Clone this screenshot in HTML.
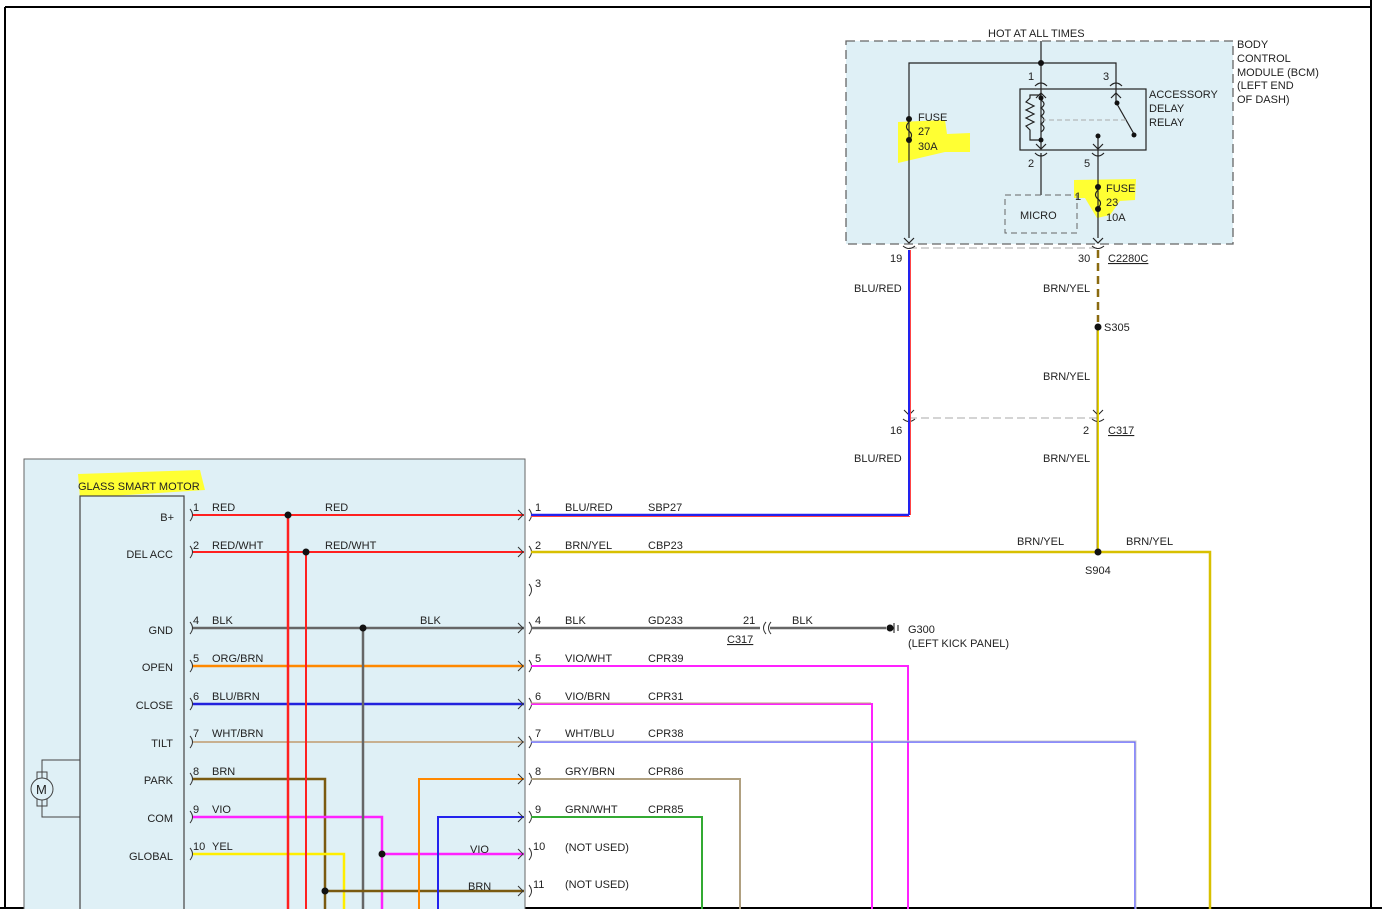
<!DOCTYPE html>
<html><head><meta charset="utf-8"><style>
html,body{margin:0;padding:0;background:#fff;}
svg{display:block;}
text{font-family:"Liberation Sans",sans-serif;font-size:11px;fill:#222;}
</style></head><body>
<svg width="1382" height="909" viewBox="0 0 1382 909" xmlns="http://www.w3.org/2000/svg">
<!-- page border -->
<line x1="5" y1="7" x2="1371" y2="7" stroke="#000" stroke-width="2"/>
<line x1="5" y1="7" x2="5" y2="909" stroke="#000" stroke-width="2"/>
<line x1="1371" y1="0" x2="1371" y2="909" stroke="#000" stroke-width="2"/>
<line x1="0" y1="908" x2="1382" y2="908" stroke="#000" stroke-width="2"/>

<!-- BCM box -->
<rect x="846" y="41" width="387" height="203" fill="#dff0f6" stroke="#666" stroke-width="1.3" stroke-dasharray="9,5"/>
<text x="988" y="37">HOT AT ALL TIMES</text>
<text x="1237" y="48">BODY</text>
<text x="1237" y="62">CONTROL</text>
<text x="1237" y="76">MODULE (BCM)</text>
<text x="1237" y="89">(LEFT END</text>
<text x="1237" y="103">OF DASH)</text>
<!-- yellow highlights -->
<path d="M898 122 L945 120 L947 134 L970 133 L970 152 L945 152 L898 163 Z" fill="#ffff33"/>
<path d="M1074 180 L1136 179 L1135 200 L1120 201 L1110 215 L1097 218 L1085 198 L1074 198 Z" fill="#ffff33"/>
<g stroke="#222" stroke-width="1.2" fill="none">
<line x1="1041" y1="41" x2="1041" y2="82"/>
<polyline points="909,238 909,63 1116,63 1116,82"/>
<rect x="1020" y="89" width="126" height="61"/>
<path d="M1035 86 q6 -6 12 0 M1110 86 q6 -6 12 0 M1035 153 q6 6 12 0 M1092 153 q6 6 12 0"/>
<polyline points="1041,82 1041,148"/>
<path d="M1041 100 q6 4 0 8 q6 4 0 8 q6 4 0 8 q6 4 0 8"/>
<polyline points="1041,95 1030,95 1030,98 1026,102 1034,106 1026,110 1034,114 1026,118 1034,122 1026,126 1030,130 1030,140 1041,140"/>
<line x1="1116" y1="82" x2="1116" y2="104"/>
<line x1="1117" y1="104" x2="1134" y2="134"/>
<line x1="1098" y1="136" x2="1098" y2="238"/>
<line x1="1041" y1="153" x2="1041" y2="195"/>
<path d="M1036 98 l5 -5 l5 5 M1036 144 l5 5 l5 -5 M1111 98 l5 -5 l5 5 M1093 144 l5 5 l5 -5 M904 238 l5 5 l5 -5 M1093 238 l5 5 l5 -5"/>
<path d="M909 122 q-5 5 0 9 q5 4 0 9 M1098 190 q-5 5 0 9 q5 4 0 9"/>
</g>
<line x1="1041" y1="120" x2="1128" y2="120" stroke="#aaa" stroke-dasharray="5,3"/>
<rect x="1005" y="195" width="72" height="38" fill="none" stroke="#666" stroke-dasharray="6,4"/>
<text x="1020" y="219">MICRO</text>
<text x="1075" y="200">1</text>
<g fill="#111">
<circle cx="1041" cy="63" r="3"/><circle cx="909" cy="119" r="3"/><circle cx="909" cy="140" r="3"/>
<circle cx="1041" cy="98" r="2.5"/><circle cx="1041" cy="140" r="2.5"/><circle cx="1117" cy="103" r="2.5"/><circle cx="1134" cy="135" r="2.5"/><circle cx="1098" cy="136" r="2.5"/>
<circle cx="1098" cy="187" r="3"/><circle cx="1098" cy="209" r="3"/>
</g>
<text x="1028" y="80">1</text><text x="1103" y="80">3</text><text x="1028" y="167">2</text><text x="1084" y="167">5</text>
<text x="1149" y="98">ACCESSORY</text><text x="1149" y="112">DELAY</text><text x="1149" y="126">RELAY</text>
<text x="918" y="121">FUSE</text><text x="918" y="135">27</text><text x="918" y="150">30A</text>
<text x="1106" y="192">FUSE</text><text x="1106" y="206">23</text><text x="1106" y="221">10A</text>

<!-- connectors C2280C / C317 -->
<line x1="909" y1="248" x2="1098" y2="248" stroke="#aaa" stroke-dasharray="8,4"/>
<line x1="909" y1="418" x2="1098" y2="418" stroke="#aaa" stroke-dasharray="8,4"/>
<g stroke="#222" stroke-width="1" fill="none">
<path d="M903 246 q6 5 12 0 M1092 246 q6 5 12 0 M903 419 q6 5 12 0 M1092 419 q6 5 12 0 M904 410 l5 5 l5 -5 M1093 410 l5 5 l5 -5"/>
</g>
<text x="890" y="262">19</text><text x="1078" y="262">30</text><text x="1108" y="262" text-decoration="underline">C2280C</text>
<text x="854" y="292">BLU/RED</text><text x="1043" y="292">BRN/YEL</text>
<text x="1104" y="331">S305</text><text x="1043" y="380">BRN/YEL</text>
<text x="890" y="434">16</text><text x="1083" y="434">2</text><text x="1108" y="434" text-decoration="underline">C317</text>
<text x="854" y="462">BLU/RED</text><text x="1043" y="462">BRN/YEL</text>

<!-- vertical right wires -->
<line x1="909" y1="250" x2="909" y2="515" stroke="#2222ee" stroke-width="2"/>
<line x1="910.5" y1="250" x2="910.5" y2="515" stroke="#ff4444" stroke-width="1"/>
<line x1="1098" y1="250" x2="1098" y2="322" stroke="#8a6a10" stroke-width="2.5" stroke-dasharray="8,5"/>
<line x1="1098" y1="327" x2="1098" y2="552" stroke="#e8d800" stroke-width="2"/>
<line x1="1097" y1="327" x2="1097" y2="552" stroke="#8a6a10" stroke-width="0.8"/>
<circle cx="1098" cy="327" r="3.5" fill="#111"/>

<!-- left module box -->
<rect x="24" y="459" width="501" height="460" fill="#dff0f6" stroke="#666" stroke-width="1"/>
<path d="M78 474 L200 470 L205 490 L80 498 Z" fill="#ffff33"/>
<text x="78" y="490">GLASS SMART MOTOR</text>
<rect x="80" y="496" width="104" height="420" fill="#dff0f6" stroke="#444" stroke-width="1.2"/>
<polyline points="80,760 42,760 42,817 80,817" fill="none" stroke="#444"/>
<rect x="37" y="772" width="10" height="34" fill="none" stroke="#444"/>
<circle cx="42" cy="789" r="11" fill="#dff0f6" stroke="#444"/>
<text x="36" y="794" style="font-size:13px">M</text>
<g text-anchor="end">
<text x="174" y="521">B+</text><text x="173" y="558">DEL ACC</text><text x="173" y="634">GND</text>
<text x="173" y="671">OPEN</text><text x="173" y="709">CLOSE</text><text x="173" y="747">TILT</text>
<text x="173" y="784">PARK</text><text x="173" y="822">COM</text><text x="173" y="860">GLOBAL</text>
</g>

<!-- left horizontal wires -->
<g stroke-width="2" fill="none">
<line x1="192" y1="515" x2="524" y2="515" stroke="#ff2020"/>
<line x1="192" y1="552" x2="524" y2="552" stroke="#ff2020"/>
<line x1="192" y1="628" x2="524" y2="628" stroke="#666" stroke-width="2.5"/>
<line x1="192" y1="666" x2="524" y2="666" stroke="#ff8800" stroke-width="2.5"/>
<line x1="192" y1="704" x2="524" y2="704" stroke="#2222dd" stroke-width="2.5"/>
<line x1="192" y1="742" x2="524" y2="742" stroke="#c8b090"/>
<polyline points="192,779 325,779 325,909" stroke="#7a5a10" stroke-width="2.5"/>
<polyline points="192,817 382,817 382,909" stroke="#ff22ff" stroke-width="2.5"/>
<polyline points="192,854 344,854 344,909" stroke="#ffee00" stroke-width="2.5"/>
<line x1="288" y1="515" x2="288" y2="909" stroke="#ff2020" stroke-width="2.5"/>
<line x1="306" y1="552" x2="306" y2="909" stroke="#ff2020"/>
<line x1="363" y1="628" x2="363" y2="909" stroke="#666" stroke-width="2.5"/>
<line x1="382" y1="854" x2="524" y2="854" stroke="#ff22ff" stroke-width="2.5"/>
<line x1="325" y1="891" x2="524" y2="891" stroke="#7a5a10" stroke-width="2.5"/>
<polyline points="419,909 419,779 524,779" stroke="#ff8800"/>
<polyline points="438,909 438,817 524,817" stroke="#2222ee"/>
</g>
<g fill="#111">
<circle cx="288" cy="515" r="3.5"/><circle cx="306" cy="552" r="3.5"/><circle cx="363" cy="628" r="3.5"/>
<circle cx="382" cy="854" r="3.5"/><circle cx="325" cy="891" r="3.5"/>
</g>
<g stroke="#333" fill="none" stroke-width="1">
<path d="M518 510 l5 5 l-5 5 M518 547 l5 5 l-5 5 M518 623 l5 5 l-5 5 M518 661 l5 5 l-5 5 M518 699 l5 5 l-5 5 M518 737 l5 5 l-5 5 M518 774 l5 5 l-5 5 M518 812 l5 5 l-5 5 M518 849 l5 5 l-5 5 M518 886 l5 5 l-5 5"/>
<path d="M190 509 q5 6 0 12 M190 546 q5 6 0 12 M190 622 q5 6 0 12 M190 660 q5 6 0 12 M190 698 q5 6 0 12 M190 736 q5 6 0 12 M190 773 q5 6 0 12 M190 811 q5 6 0 12 M190 848 q5 6 0 12"/>
<path d="M529 509 q5 6 0 12 M529 546 q5 6 0 12 M529 584 q5 6 0 12 M529 622 q5 6 0 12 M529 660 q5 6 0 12 M529 698 q5 6 0 12 M529 736 q5 6 0 12 M529 773 q5 6 0 12 M529 811 q5 6 0 12 M529 848 q5 6 0 12 M529 885 q5 6 0 12"/>
</g>
<text x="193" y="511">1</text><text x="212" y="511">RED</text><text x="325" y="511">RED</text>
<text x="193" y="549">2</text><text x="212" y="549">RED/WHT</text><text x="325" y="549">RED/WHT</text>
<text x="193" y="624">4</text><text x="212" y="624">BLK</text><text x="420" y="624">BLK</text>
<text x="193" y="662">5</text><text x="212" y="662">ORG/BRN</text>
<text x="193" y="700">6</text><text x="212" y="700">BLU/BRN</text>
<text x="193" y="737">7</text><text x="212" y="737">WHT/BRN</text>
<text x="193" y="775">8</text><text x="212" y="775">BRN</text>
<text x="193" y="813">9</text><text x="212" y="813">VIO</text>
<text x="193" y="850">10</text><text x="212" y="850">YEL</text>
<text x="470" y="853">VIO</text><text x="468" y="890">BRN</text>

<!-- right horizontal wires -->
<g stroke-width="2" fill="none">
<polyline points="531,515 909,515" stroke="#2222ee" stroke-width="2.5"/>
<line x1="531" y1="516.5" x2="910" y2="516.5" stroke="#ff4444" stroke-width="1"/>
<polyline points="531,552 1210,552 1210,909" stroke="#d8c000" stroke-width="2.5"/>
<line x1="531" y1="628" x2="760" y2="628" stroke="#666" stroke-width="2.5"/>
<line x1="770" y1="628" x2="886" y2="628" stroke="#666" stroke-width="2.5"/>
<polyline points="531,666 908,666 908,909" stroke="#ff22ff"/>
<polyline points="531,704 872,704 872,909" stroke="#ff22ff"/>
<polyline points="531,703 871,703" stroke="#c0a080" stroke-width="1"/>
<polyline points="531,742 1135,742 1135,909" stroke="#6666ff" stroke-width="1.5"/>
<polyline points="531,741 1136,741 1136,909" stroke="#ccc" stroke-width="1"/>
<polyline points="531,779 740,779 740,909" stroke="#b0a080"/>
<polyline points="531,817 702,817 702,909" stroke="#33aa33"/>
</g>
<circle cx="1098" cy="552" r="3.5" fill="#111"/>
<path d="M766 622 q-5 6 0 12 M771 622 q-5 6 0 12" stroke="#333" fill="none"/>
<circle cx="890" cy="628" r="3.5" fill="#111"/>
<line x1="894" y1="623" x2="894" y2="633" stroke="#111"/><line x1="898" y1="625" x2="898" y2="631" stroke="#111"/>
<text x="535" y="511">1</text><text x="565" y="511">BLU/RED</text><text x="648" y="511">SBP27</text>
<text x="535" y="549">2</text><text x="565" y="549">BRN/YEL</text><text x="648" y="549">CBP23</text>
<text x="1017" y="545">BRN/YEL</text><text x="1126" y="545">BRN/YEL</text><text x="1085" y="574">S904</text>
<text x="535" y="587">3</text>
<text x="535" y="624">4</text><text x="565" y="624">BLK</text><text x="648" y="624">GD233</text><text x="743" y="624">21</text><text x="792" y="624">BLK</text>
<text x="727" y="643" text-decoration="underline">C317</text>
<text x="908" y="633">G300</text><text x="908" y="647">(LEFT KICK PANEL)</text>
<text x="535" y="662">5</text><text x="565" y="662">VIO/WHT</text><text x="648" y="662">CPR39</text>
<text x="535" y="700">6</text><text x="565" y="700">VIO/BRN</text><text x="648" y="700">CPR31</text>
<text x="535" y="737">7</text><text x="565" y="737">WHT/BLU</text><text x="648" y="737">CPR38</text>
<text x="535" y="775">8</text><text x="565" y="775">GRY/BRN</text><text x="648" y="775">CPR86</text>
<text x="535" y="813">9</text><text x="565" y="813">GRN/WHT</text><text x="648" y="813">CPR85</text>
<text x="533" y="850">10</text><text x="565" y="851">(NOT USED)</text>
<text x="533" y="888">11</text><text x="565" y="888">(NOT USED)</text>
</svg>
</body></html>
